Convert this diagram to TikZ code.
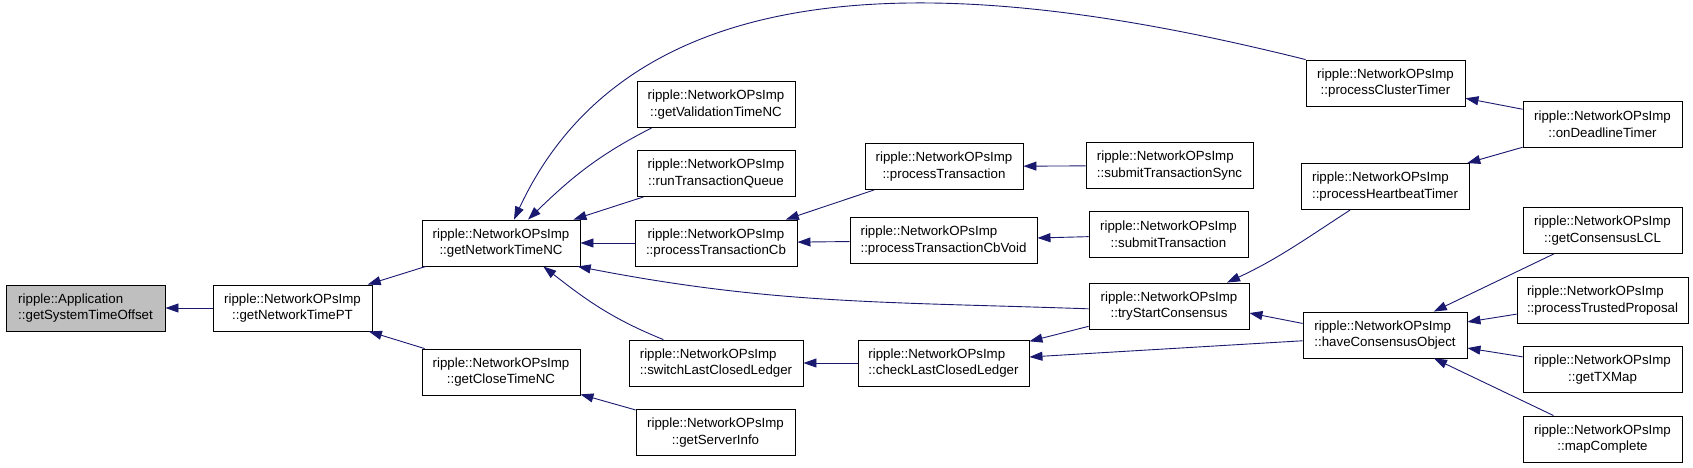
\documentclass[tikz,border=0pt]{standalone}
\usepackage{fontspec}
\setmainfont{Liberation Sans}
\definecolor{callBlue}{RGB}{25, 25, 112}
\definecolor{rootGray}{RGB}{191, 191, 191}
\usepackage{tikz}
\usetikzlibrary{arrows.meta, positioning}

\begin{document}
\begin{tikzpicture}[x=1pt, y=1pt, every node/.style={font=\fontsize{13.3}{16.6}\selectfont},
  fn/.style={draw=black, line width=0.9pt, fill=white, align=center, minimum height=46pt, inner sep=0pt},
  call/.style={draw=callBlue, line width=0.9pt, -{Triangle[length=13pt, width=9pt]}}]
  \useasboundingbox (0,0) rectangle (1693,-467);
  \node[fn, fill=rootGray, align=left, minimum width=159pt] (gsto) at (85.5,-308) {ripple::Application\\::getSystemTimeOffset};
  \node[fn, minimum width=159pt] (gntpt) at (292.5,-308) {ripple::NetworkOPsImp\\::getNetworkTimePT};
  \node[fn, minimum width=158pt] (gntnc) at (501,-243) {ripple::NetworkOPsImp\\::getNetworkTimeNC};
  \node[fn, minimum width=158pt] (gctnc) at (501,-372) {ripple::NetworkOPsImp\\::getCloseTimeNC};
  \node[fn, minimum width=158pt] (gvtnc) at (716,-104.5) {ripple::NetworkOPsImp\\::getValidationTimeNC};
  \node[fn, minimum width=158pt] (rtq) at (716,-173.5) {ripple::NetworkOPsImp\\::runTransactionQueue};
  \node[fn, minimum width=162pt] (ptcb) at (716,-243) {ripple::NetworkOPsImp\\::processTransactionCb};
  \node[fn, align=left, minimum width=174pt] (slcl) at (716,-363) {ripple::NetworkOPsImp\\::switchLastClosedLedger};
  \node[fn, minimum width=159pt] (gsi) at (715.5,-432.5) {ripple::NetworkOPsImp\\::getServerInfo};
  \node[fn, minimum width=158pt] (pt) at (944,-166.5) {ripple::NetworkOPsImp\\::processTransaction};
  \node[fn, align=left, minimum width=187pt] (ptcbv) at (943.5,-240.5) {ripple::NetworkOPsImp\\::processTransactionCbVoid};
  \node[fn, align=left, minimum width=171pt] (clcl) at (943.5,-363) {ripple::NetworkOPsImp\\::checkLastClosedLedger};
  \node[fn, align=left, minimum width=167pt] (sts) at (1169.5,-165.5) {ripple::NetworkOPsImp\\::submitTransactionSync};
  \node[fn, minimum width=159pt] (st) at (1168.5,-234.5) {ripple::NetworkOPsImp\\::submitTransaction};
  \node[fn, minimum width=160pt] (tsc) at (1169,-306) {ripple::NetworkOPsImp\\::tryStartConsensus};
  \node[fn, minimum width=159pt] (pct) at (1385.5,-83) {ripple::NetworkOPsImp\\::processClusterTimer};
  \node[fn, align=left, minimum width=168pt] (pht) at (1385,-186.5) {ripple::NetworkOPsImp\\::processHeartbeatTimer};
  \node[fn, align=left, minimum width=164pt] (hco) at (1385,-335) {ripple::NetworkOPsImp\\::haveConsensusObject};
  \node[fn, minimum width=159pt] (odt) at (1602.5,-124.5) {ripple::NetworkOPsImp\\::onDeadlineTimer};
  \node[fn, minimum width=159pt] (gclcl) at (1602.5,-230.5) {ripple::NetworkOPsImp\\::getConsensusLCL};
  \node[fn, align=left, minimum width=171pt] (ptp) at (1602.5,-300.5) {ripple::NetworkOPsImp\\::processTrustedProposal};
  \node[fn, minimum width=159pt] (gtx) at (1602.5,-369.5) {ripple::NetworkOPsImp\\::getTXMap};
  \node[fn, minimum width=159pt] (mc) at (1602.5,-439) {ripple::NetworkOPsImp\\::mapComplete};

  \draw[call] (gntpt) -- (gsto);
  \draw[call] (gntnc) -- (gntpt);
  \draw[call] (gctnc) -- (gntpt);
  \draw[call] (pct.north west) to[out=166, in=65, looseness=0.97] (gntnc.61);
  \draw[call] (gvtnc.200) to[out=207, in=44] (gntnc.41);
  \draw[call] (rtq) -- (gntnc);
  \draw[call] (ptcb) -- (gntnc);
  \draw[call] (tsc.182) to[out=178, in=-11] (gntnc.-17);
  \draw[call] (slcl.156) to[out=158, in=-38] (gntnc.-29);
  \draw[call] (gsi) -- (gctnc);
  \draw[call] (pt) -- (ptcb);
  \draw[call] (ptcbv) -- (ptcb);
  \draw[call] (sts) -- (pt);
  \draw[call] (st) -- (ptcbv);
  \draw[call] (clcl) -- (slcl);
  \draw[call] (tsc) -- (clcl);
  \draw[call] (hco.184) -- (clcl.4);
  \draw[call] (pht.214) to[out=213, in=25] (tsc.22);
  \draw[call] (hco.172) -- (tsc.-5);
  \draw[call] (odt) -- (pct);
  \draw[call] (odt) -- (pht);
  \draw[call] (gclcl) -- (hco);
  \draw[call] (ptp) -- (hco);
  \draw[call] (gtx) -- (hco);
  \draw[call] (mc) -- (hco);
\end{tikzpicture}
\end{document}
